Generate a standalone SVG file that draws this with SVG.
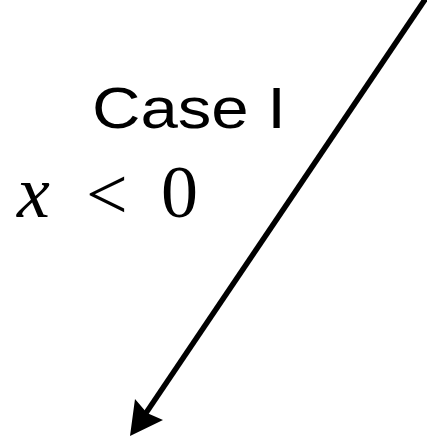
<svg xmlns="http://www.w3.org/2000/svg" width="427" height="438" viewBox="0 0 427 438">
<style>
.title{font-family:"Gill Sans","Liberation Sans",sans-serif;font-size:57px;fill:#000}
.m{font-family:"Liberation Serif",serif;font-size:74px;fill:#000}
</style>
<rect width="427" height="438" fill="#fff"/>
<g id="label-case">
<text class="title" x="92" y="128" textLength="194" lengthAdjust="spacingAndGlyphs">Case I</text>
</g>
<g id="label-cond">
<text class="m" x="17" y="217" font-style="italic" font-size="78">x</text>
<text class="m" x="86" y="219" font-size="86">&lt;</text>
<text class="m" x="161" y="217">0</text>
</g>
<g id="connectors">
<line x1="426" y1="-2" x2="146" y2="413" stroke="#000" stroke-width="5.5"/>
<polygon points="130,436 135,399 147,413 163,420" fill="#000"/>
</g>
</svg>
